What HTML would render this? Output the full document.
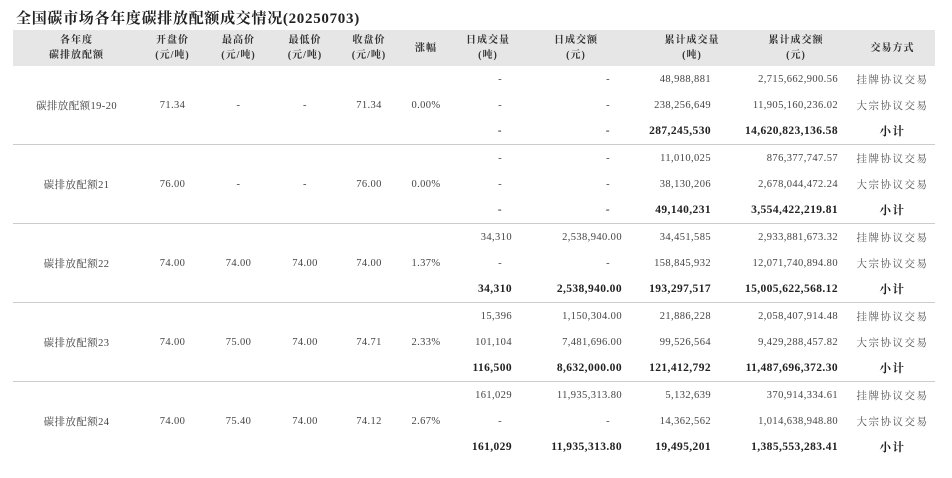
<!DOCTYPE html>
<html><head><meta charset="utf-8"><style>
body{margin:0;width:952px;height:478px;background:#fff;font-family:"Liberation Serif","Noto Serif CJK SC",serif;color:#444;overflow:hidden;position:relative}
.t{position:absolute;left:16px;top:7px;font-size:15px;font-weight:bold;color:#222;letter-spacing:0.7px}
table{position:absolute;left:13px;top:30px;border-collapse:collapse;table-layout:fixed;width:922px;font-size:10.5px}
th{background:#e6e6e6;height:36px;font-size:10px;color:#333;font-weight:bold;line-height:15px;padding:0;text-align:center;letter-spacing:1px}
td{height:26px;padding:0;white-space:nowrap;letter-spacing:0.4px}
.c{text-align:center}
.r7{text-align:right;padding-right:18px}
.r8{text-align:right;padding-right:18px}
.r9{text-align:right;padding-right:19px}
.r10{text-align:right;padding-right:12px}
.d7{text-align:right;padding-right:28px}
.d8{text-align:right;padding-right:30px}
.m{text-align:center;letter-spacing:1.5px;font-size:10.5px;color:#555}
.b td{font-weight:bold;color:#222;font-size:11.5px}
.g td{border-bottom:1px solid #ccc}
tr.sp td{height:9px}
</style></head><body>
<div class="t">全国碳市场各年度碳排放配额成交情况(20250703)</div>
<table>
<colgroup><col style="width:127px"><col style="width:65px"><col style="width:67px"><col style="width:66px"><col style="width:62px"><col style="width:52px"><col style="width:78px"><col style="width:110px"><col style="width:90px"><col style="width:120px"><col style="width:85px"></colgroup>
<tr><th>各年度<br>碳排放配额</th><th>开盘价<br>(元/吨)</th><th>最高价<br>(元/吨)</th><th>最低价<br>(元/吨)</th><th>收盘价<br>(元/吨)</th><th>涨幅</th><th style="padding-right:6px">日成交量<br>(吨)</th><th style="padding-right:18px">日成交额<br>(元)</th><th style="padding-left:14px">累计成交量<br>(吨)</th><th style="padding-left:12px">累计成交额<br>(元)</th><th>交易方式</th></tr>

<tr><td class="c" rowspan="3">碳排放配额19-20</td><td class="c" rowspan="3">71.34</td><td class="c" rowspan="3">-</td><td class="c" rowspan="3">-</td><td class="c" rowspan="3">71.34</td><td class="c" rowspan="3">0.00%</td><td class="d7">-</td><td class="d8">-</td><td class="r9">48,988,881</td><td class="r10">2,715,662,900.56</td><td class="m">挂牌协议交易</td></tr>
<tr><td class="d7">-</td><td class="d8">-</td><td class="r9">238,256,649</td><td class="r10">11,905,160,236.02</td><td class="m">大宗协议交易</td></tr>
<tr class="b"><td class="d7" style="font-weight:normal">-</td><td class="d8" style="font-weight:normal">-</td><td class="r9">287,245,530</td><td class="r10">14,620,823,136.58</td><td class="m">小计</td></tr>
<tr class="g sp"><td colspan="11" style="height:0"></td></tr>

<tr><td class="c" rowspan="3">碳排放配额21</td><td class="c" rowspan="3">76.00</td><td class="c" rowspan="3">-</td><td class="c" rowspan="3">-</td><td class="c" rowspan="3">76.00</td><td class="c" rowspan="3">0.00%</td><td class="d7">-</td><td class="d8">-</td><td class="r9">11,010,025</td><td class="r10">876,377,747.57</td><td class="m">挂牌协议交易</td></tr>
<tr><td class="d7">-</td><td class="d8">-</td><td class="r9">38,130,206</td><td class="r10">2,678,044,472.24</td><td class="m">大宗协议交易</td></tr>
<tr class="b"><td class="d7" style="font-weight:normal">-</td><td class="d8" style="font-weight:normal">-</td><td class="r9">49,140,231</td><td class="r10">3,554,422,219.81</td><td class="m">小计</td></tr>
<tr class="g sp"><td colspan="11" style="height:0"></td></tr>

<tr><td class="c" rowspan="3">碳排放配额22</td><td class="c" rowspan="3">74.00</td><td class="c" rowspan="3">74.00</td><td class="c" rowspan="3">74.00</td><td class="c" rowspan="3">74.00</td><td class="c" rowspan="3">1.37%</td><td class="r7">34,310</td><td class="r8">2,538,940.00</td><td class="r9">34,451,585</td><td class="r10">2,933,881,673.32</td><td class="m">挂牌协议交易</td></tr>
<tr><td class="d7">-</td><td class="d8">-</td><td class="r9">158,845,932</td><td class="r10">12,071,740,894.80</td><td class="m">大宗协议交易</td></tr>
<tr class="b"><td class="r7">34,310</td><td class="r8">2,538,940.00</td><td class="r9">193,297,517</td><td class="r10">15,005,622,568.12</td><td class="m">小计</td></tr>
<tr class="g sp"><td colspan="11" style="height:0"></td></tr>

<tr><td class="c" rowspan="3">碳排放配额23</td><td class="c" rowspan="3">74.00</td><td class="c" rowspan="3">75.00</td><td class="c" rowspan="3">74.00</td><td class="c" rowspan="3">74.71</td><td class="c" rowspan="3">2.33%</td><td class="r7">15,396</td><td class="r8">1,150,304.00</td><td class="r9">21,886,228</td><td class="r10">2,058,407,914.48</td><td class="m">挂牌协议交易</td></tr>
<tr><td class="r7">101,104</td><td class="r8">7,481,696.00</td><td class="r9">99,526,564</td><td class="r10">9,429,288,457.82</td><td class="m">大宗协议交易</td></tr>
<tr class="b"><td class="r7">116,500</td><td class="r8">8,632,000.00</td><td class="r9">121,412,792</td><td class="r10">11,487,696,372.30</td><td class="m">小计</td></tr>
<tr class="g sp"><td colspan="11" style="height:0"></td></tr>

<tr><td class="c" rowspan="3">碳排放配额24</td><td class="c" rowspan="3">74.00</td><td class="c" rowspan="3">75.40</td><td class="c" rowspan="3">74.00</td><td class="c" rowspan="3">74.12</td><td class="c" rowspan="3">2.67%</td><td class="r7">161,029</td><td class="r8">11,935,313.80</td><td class="r9">5,132,639</td><td class="r10">370,914,334.61</td><td class="m">挂牌协议交易</td></tr>
<tr><td class="d7">-</td><td class="d8">-</td><td class="r9">14,362,562</td><td class="r10">1,014,638,948.80</td><td class="m">大宗协议交易</td></tr>
<tr class="b"><td class="r7">161,029</td><td class="r8">11,935,313.80</td><td class="r9">19,495,201</td><td class="r10">1,385,553,283.41</td><td class="m">小计</td></tr>
</table>
</body></html>
